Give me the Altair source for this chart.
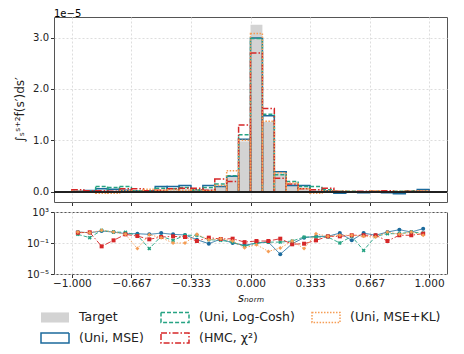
import altair as alt
import pandas as pd
import numpy as np

# ---------------- data ----------------
series_order = ["Target", "(Uni, Log-Cosh)", "(Uni, MSE+KL)", "(Uni, MSE)", "(HMC, χ²)"]
bin_edges = np.linspace(-1.0, 1.0, 31)
x_ticks = [-1.0, -2 / 3, -1 / 3, 0.0, 1 / 3, 2 / 3, 1.0]

# integrated density per bin, in units of 1e-5
target = [0.02, 0.02, 0.03, 0.03, 0.04, 0.02, 0.03, 0.04, 0.05, 0.05,
          0.03, 0.06, 0.10, 0.30, 0.98, 3.25, 1.36, 0.36, 0.15, 0.08,
          0.04, 0.03, 0.01, 0.01, 0.01, 0.005, 0.01, 0.01, 0.01, 0.02]
uni_mse = [0.01, 0.025, 0.06, 0.05, 0.03, 0.02, 0.02, 0.10, 0.10, 0.12,
           0.04, 0.12, 0.10, 0.30, 1.02, 2.99, 1.48, 0.39, 0.12, 0.12,
           0.00, 0.02, -0.03, 0.00, -0.02, 0.00, -0.02, -0.04, 0.00, 0.045]
uni_logcosh = [0.00, 0.01, 0.10, 0.08, 0.10, 0.02, 0.02, 0.07, 0.06, 0.08,
               0.03, 0.08, 0.15, 0.31, 1.11, 2.98, 1.51, 0.33, 0.20, 0.10,
               0.10, 0.04, 0.01, 0.01, 0.00, 0.01, -0.01, 0.01, 0.02, 0.01]
hmc_chi2 = [0.04, 0.02, 0.02, 0.01, 0.06, 0.06, 0.02, 0.03, 0.06, 0.07,
            0.07, 0.03, 0.25, 0.20, 1.30, 2.70, 1.62, 0.26, 0.15, 0.06,
            0.04, 0.07, 0.01, 0.00, 0.01, 0.01, 0.02, 0.00, 0.01, 0.01]
uni_msekl = [0.01, -0.01, -0.03, -0.03, 0.02, 0.01, 0.05, 0.03, 0.04, 0.03,
             0.04, 0.02, 0.12, 0.41, 1.00, 3.08, 1.37, 0.37, 0.17, 0.06,
             -0.03, 0.02, 0.01, 0.01, 0.00, 0.02, 0.00, 0.01, 0.01, 0.02]

# lower panel: per-bin deviation (log scale)
dev_mse = [2.6, 2.1, 3.5, 2.6, 1.6, 1.6, 1.3, 1.9, 1.3, 1.1,
           0.27, 0.081, 0.33, 0.10, 0.05, 0.10, 0.13, 0.0035, 0.081, 0.49,
           0.72, 0.72, 1.9, 0.22, 1.9, 1.0, 2.6, 5.2, 2.6, 7.1]
dev_logcosh = [1.3, 0.49, 4.3, 2.6, 2.4, 1.0, 0.019, 0.72, 0.22, 1.0,
               1.0, 0.27, 0.22, 0.13, 0.037, 0.10, 0.13, 0.13, 0.18, 0.59,
               0.59, 0.59, 0.10, 0.72, 0.011, 0.72, 1.6, 1.6, 2.6, 1.9]
dev_hmc = [2.1, 2.4, 0.037, 0.22, 1.3, 0.79, 0.30, 0.59, 0.72, 0.59,
           0.18, 0.49, 0.33, 0.36, 0.13, 0.18, 0.18, 0.36, 0.068, 0.081,
           0.22, 0.72, 0.72, 1.0, 1.0, 1.0, 0.18, 1.0, 1.0, 1.6]
dev_msekl = [2.6, 2.1, 4.3, 2.6, 1.3, 0.019, 1.2, 0.49, 0.10, 0.10,
             1.3, 0.27, 0.36, 0.18, 0.025, 0.06, 0.0083, 0.022, 0.18, 0.019,
             1.6, 0.72, 1.0, 1.0, 0.72, 0.59, 2.6, 1.3, 2.6, 1.0]

# ---------------- styles ----------------
GRAY = "#d3d3d3"
BLUE = "#1b6a9c"
GREEN = "#26a383"
RED = "#d62728"
ORANGE = "#f59d55"

styles = {
    "Target": dict(fill=GRAY, stroke="transparent", dash=[1, 0]),
    "(Uni, Log-Cosh)": dict(fill="transparent", stroke=GREEN, dash=[4, 2]),
    "(Uni, MSE+KL)": dict(fill="transparent", stroke=ORANGE, dash=[1.5, 1.5]),
    "(Uni, MSE)": dict(fill="transparent", stroke=BLUE, dash=[1, 0]),
    "(HMC, χ²)": dict(fill="transparent", stroke=RED, dash=[6, 2, 1.5, 2]),
}

hist_series = [("Target", target), ("(Uni, MSE)", uni_mse), ("(Uni, Log-Cosh)", uni_logcosh),
               ("(HMC, χ²)", hmc_chi2), ("(Uni, MSE+KL)", uni_msekl)]
rows = []
for name, vals in hist_series:
    for i, v in enumerate(vals):
        rows.append({"series": name, "x0": bin_edges[i], "x1": bin_edges[i + 1], "v": v, "base": 0.0})
hist = pd.DataFrame(rows)

centers = (bin_edges[:-1] + bin_edges[1:]) / 2
dev_series = [("(Uni, MSE)", dev_mse, BLUE, [1, 0], "circle", 0),
              ("(Uni, Log-Cosh)", dev_logcosh, GREEN, [4, 2], "cross", 45),
              ("(HMC, χ²)", dev_hmc, RED, [6, 2, 1.5, 2], "square", 0),
              ("(Uni, MSE+KL)", dev_msekl, ORANGE, [1.5, 1.5], "diamond", 0)]
drows = []
for name, vals, *_ in dev_series:
    for c, v in zip(centers, vals):
        drows.append({"series": name, "x": c, "d": v})
dev = pd.DataFrame(drows)

# ---------------- top panel ----------------
W = 393
xscale = alt.Scale(domain=[-1.1, 1.1], nice=False, zero=False)
legend = alt.Legend(title=None, orient="none", legendX=-7, legendY=292,
                    columns=3, direction="horizontal",
                    symbolType="M-2,-0.72H2V0.72H-2Z", symbolSize=196,
                    symbolStrokeWidth=1.5, labelFontSize=12.5, labelLimit=300,
                    labelOffset=16, columnPadding=14, rowPadding=3)
fill_enc = alt.Fill("series:N", scale=alt.Scale(domain=series_order,
                    range=[styles[s]["fill"] for s in series_order]), legend=legend)
stroke_enc = alt.Stroke("series:N", scale=alt.Scale(domain=series_order,
                        range=[styles[s]["stroke"] for s in series_order]), legend=legend)
dash_enc = alt.StrokeDash("series:N", scale=alt.Scale(domain=series_order,
                          range=[styles[s]["dash"] for s in series_order]), legend=legend)

x_top = alt.X("x0:Q", scale=xscale,
              axis=alt.Axis(values=x_ticks, labels=False, title=None, grid=True,
                            gridDash=[2, 2], gridColor="#dddddd", ticks=True, tickSize=3.5))
y_top = alt.Y("v:Q", scale=alt.Scale(domain=[-0.2, 3.4], nice=False, zero=False),
              axis=alt.Axis(values=[0, 0.5, 1.0, 1.5, 2.0, 2.5, 3.0], format=".1f",
                            title="∫ₛˢ⁺²f(s′)ds′", titleFontSize=12, titlePadding=6,
                            grid=True, gridDash=[2, 2], gridColor="#dddddd", tickSize=3.5))

base_top = alt.Chart(hist).encode(x=x_top, x2="x1:Q", y=y_top, y2="base:Q",
                                  fill=fill_enc, stroke=stroke_enc, strokeDash=dash_enc)
target_layer = base_top.transform_filter(alt.datum.series == "Target").mark_bar(strokeWidth=0)
model_layer = base_top.transform_filter(alt.datum.series != "Target").mark_bar(strokeWidth=1.5)
zero_rule = alt.Chart(hist).mark_rule(color="#222222", strokeWidth=1).encode(y=alt.datum(0))

top = alt.layer(target_layer, model_layer, zero_rule).properties(
    width=W, height=185,
    title=alt.TitleParams("1e−5", anchor="start", frame="group", fontSize=10,
                          fontWeight="normal", offset=-2))

# ---------------- bottom panel ----------------
x_bot = alt.X("x:Q", scale=xscale,
              axis=alt.Axis(values=x_ticks, format=".3f", title="sₙₒᵣₘ", titleFontSize=12,
                            titleFontStyle="italic", titleFontWeight="normal", titlePadding=3,
                            labelPadding=1, labelFontSize=10.5,
                            grid=True, gridDash=[2, 2], gridColor="#dddddd", tickSize=3.5))
y_bot = alt.Y("d:Q", scale=alt.Scale(type="log", domain=[1e-5, 1e3], nice=False),
              axis=alt.Axis(values=[1e-5, 1e-1, 1e3], title=None, tickSize=3.5,
                            labelExpr="round(log(datum.value)/LN10) == 3 ? '10³' : (round(log(datum.value)/LN10) == -1 ? '10⁻¹' : '10⁻⁵')",
                            grid=True, gridDash=[2, 2], gridColor="#dddddd"))
layers = []
for name, vals, color, dash, shape, ang in dev_series:
    layers.append(
        alt.Chart(dev).transform_filter(alt.datum.series == name)
        .mark_line(color=color, strokeDash=dash, strokeWidth=1, opacity=0.9,
                   point=alt.OverlayMarkDef(shape=shape, size=16, filled=True, color=color, angle=ang))
        .encode(x=x_bot, y=y_bot)
    )
bottom = alt.layer(*layers).properties(width=W, height=62)

chart = alt.vconcat(top, bottom, spacing=10, bounds="flush").properties(
    padding={"left": 5, "top": 0, "right": 5, "bottom": 0}
).configure(
    font="DejaVu Sans"
).configure_axis(
    labelFontSize=10, labelColor="#222222", tickColor="#333333", domain=False,
    titleColor="#222222", titleFontWeight="normal"
).configure_view(
    stroke="#555555", strokeWidth=1
).configure_legend(
    labelColor="#222222"
)

chart.save("out.html", embed_options={"renderer": "svg", "actions": False})
